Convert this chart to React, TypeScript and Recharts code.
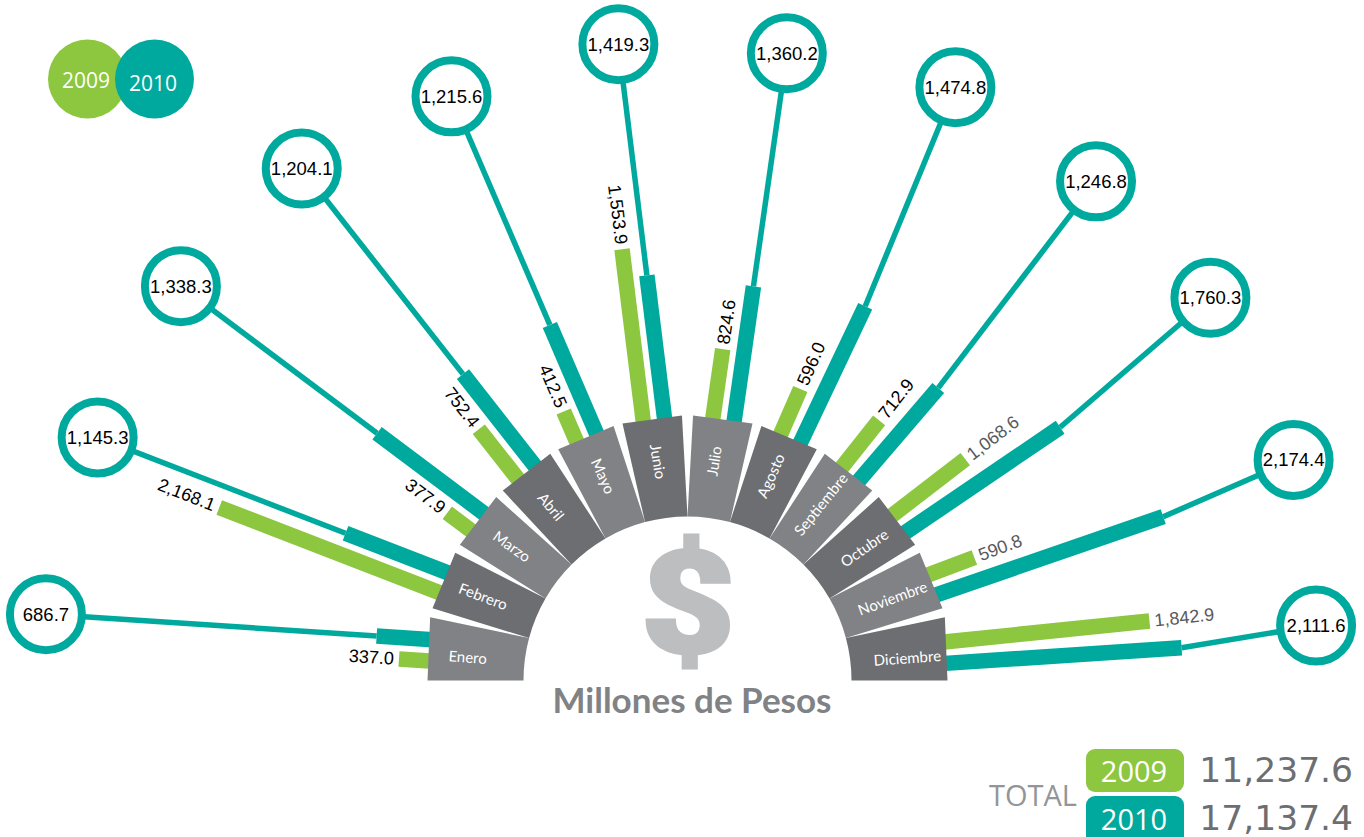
import React from 'react';
import { PieChart, Pie, ScatterChart, Scatter, XAxis, YAxis } from 'recharts';

const MONTHS = ['Enero', 'Febrero', 'Marzo', 'Abril', 'Mayo', 'Junio', 'Julio', 'Agosto', 'Septiembre', 'Octubre', 'Noviembre', 'Diciembre'];
const VALUES_2009 = [337.0, 2168.1, 377.9, 752.4, 412.5, 1553.9, 824.6, 596.0, 712.9, 1068.6, 590.8, 1842.9];
const VALUES_2010 = [686.7, 1145.3, 1338.3, 1204.1, 1215.6, 1419.3, 1360.2, 1474.8, 1246.8, 1760.3, 2174.4, 2111.6];
const TOTALS = [
  { year: '2009', total: '11,237.6' },
  { year: '2010', total: '17,137.4' },
];

// layout of the fan, angles in degrees counted clockwise from the left
const WIDTH = 1364;
const HEIGHT = 837;
const CX = 687.5;
const CY = 680.5;
const BUBBLE_ANGLES = [5.9, 22.4, 37.9, 53, 68, 83.8, 99, 114.3, 129.3, 143.8, 160, 175];
const BUBBLE_REACH = [645, 638, 642, 641, 630, 640, 635, 651, 645, 648, 645, 631];
const NAME_ANGLES = [6.2, 22.5, 37.5, 52, 67.7, 82.5, 96.8, 112, 127, 143, 158, 174];

const GREEN = '#8dc63f';
const TEAL = '#00a99d';
const SECTOR_LIGHT = '#808285';
const SECTOR_DARK = '#6d6e71';
const LABEL_FONT = '"Liberation Sans", Arial, sans-serif';

const polar = (deg: number, r: number) => {
  const a = (deg * Math.PI) / 180;
  return { x: CX - r * Math.cos(a), y: CY - r * Math.sin(a) };
};
const fmt = (v: number) => v.toLocaleString('en-US', { minimumFractionDigits: 1, maximumFractionDigits: 1 });

// the printed bars are not quite proportional, so each series has its own scale
const length09 = (v: number) => (v < 1200 ? 0.09 * v - 3 : 0.1025 * v + 15);
const length10 = (v: number) => 0.127 * v - 35;

const noDot = () => <g />;

type Pt = { x: number; y: number };
const towards = (from: Pt, to: Pt) => {
  const len = Math.hypot(to.x - from.x, to.y - from.y);
  return { x: (to.x - from.x) / len, y: (to.y - from.y) / len };
};
const along = (p: Pt, dir: Pt, d: number) => ({ x: p.x + dir.x * d, y: p.y + dir.y * d });

// one geometry record per month, all of it derived from the values above
const spokes = MONTHS.map((month, i) => {
  const angle10 = 9 + 15.2 * i;
  const base10 = polar(angle10, 262);
  const base09 = polar(4.3 + 15.2 * i, 262);
  const bubble = polar(BUBBLE_ANGLES[i], BUBBLE_REACH[i]);
  const toBubble = towards(base10, bubble);
  // from Agosto on the thick bar follows its own radius and the thin line bends to the bubble
  const dir10 = i >= 7 ? towards({ x: CX, y: CY }, base10) : toBubble;
  const tip10 = along(base10, dir10, length10(VALUES_2010[i]));
  const tip09 = along(base09, toBubble, length09(VALUES_2009[i]));
  const labelAt = along(tip09, toBubble, 5);
  const rightSide = i > 5;
  const rot = (Math.atan2(rightSide ? toBubble.y : -toBubble.y, rightSide ? toBubble.x : -toBubble.x) * 180) / Math.PI;
  return {
    month,
    stalk: [tip10, bubble],
    bar10: [along(base10, dir10, -15), tip10],
    bar09: [along(base09, toBubble, -15), tip09],
    bubble: { ...bubble, label: fmt(VALUES_2010[i]) },
    label09: { ...labelAt, label: fmt(VALUES_2009[i]), rot, anchor: rightSide ? 'start' : 'end', color: i >= 9 ? '#58595b' : '#000' },
  };
});

const Bubble = (props: any) => (
  <g>
    <circle cx={props.cx} cy={props.cy} r={36} fill="#fff" stroke={TEAL} strokeWidth={8} />
    <text x={props.cx} y={props.cy} textAnchor="middle" dominantBaseline="central" fontFamily={LABEL_FONT} fontSize={18.5} fill="#000">
      {props.payload.label}
    </text>
  </g>
);

const BarLabel = (props: any) => {
  const p = props.payload;
  return (
    <text
      x={props.cx}
      y={props.cy}
      textAnchor={p.anchor}
      dominantBaseline="central"
      transform={`rotate(${p.rot} ${props.cx} ${props.cy})`}
      fontFamily={LABEL_FONT}
      fontSize={18}
      fill={p.color}
    >
      {p.label}
    </text>
  );
};

// straight outer edge with a gap that opens outwards, text along the spoke
const Wedge = (props: any) => {
  const i = Math.round((180 - props.startAngle) / 15);
  const from = 15 * i;
  const to = from + 15;
  const left = i < 6;
  const o1 = i === 0 ? polar(0, 260) : polar(from + (left ? 0.8 : 1.2), 265);
  const o2 = i === 11 ? polar(180, 260) : polar(from + (left ? 13.8 : 14.2), 265);
  const in1 = polar(from, props.innerRadius);
  const in2 = polar(to, props.innerRadius);
  const mid = polar(NAME_ANGLES[i], 221);
  const rot = left ? NAME_ANGLES[i] - 2 : NAME_ANGLES[i] - 180 + 2;
  return (
    <g>
      <path
        d={`M${o1.x} ${o1.y}L${o2.x} ${o2.y}L${in2.x} ${in2.y}A${props.innerRadius} ${props.innerRadius} 0 0 0 ${in1.x} ${in1.y}Z`}
        fill={i % 2 === 0 ? SECTOR_LIGHT : SECTOR_DARK}
      />
      <text
        x={mid.x}
        y={mid.y}
        textAnchor="middle"
        dominantBaseline="central"
        transform={`rotate(${rot} ${mid.x} ${mid.y})`}
        fontFamily="Lato, sans-serif"
        fontSize={15}
        fill="#fff"
      >
        {MONTHS[i]}
      </text>
    </g>
  );
};

const sectors = MONTHS.map((name) => ({ name, share: 1 }));

export default function App() {
  return (
    <div style={{ position: 'absolute', left: 0, top: 0, width: WIDTH, height: HEIGHT, overflow: 'hidden', background: '#fff' }}>
      <div style={{ position: 'absolute', left: 0, top: 0 }}>
        <ScatterChart width={WIDTH} height={HEIGHT} margin={{ top: 0, right: 0, bottom: 0, left: 0 }}>
          <XAxis type="number" dataKey="x" domain={[0, WIDTH]} hide />
          <YAxis type="number" dataKey="y" domain={[0, HEIGHT]} reversed hide />
          {spokes.map((s) => (
            <Scatter key={`stalk-${s.month}`} data={s.stalk} line={{ stroke: TEAL, strokeWidth: 5.5 }} shape={noDot} isAnimationActive={false} />
          ))}
          {spokes.map((s) => (
            <Scatter key={`bar10-${s.month}`} data={s.bar10} line={{ stroke: TEAL, strokeWidth: 15.5 }} shape={noDot} isAnimationActive={false} />
          ))}
          {spokes.map((s) => (
            <Scatter key={`bar09-${s.month}`} data={s.bar09} line={{ stroke: GREEN, strokeWidth: 15.5 }} shape={noDot} isAnimationActive={false} />
          ))}
          <Scatter data={spokes.map((s) => s.bubble)} shape={Bubble} isAnimationActive={false} />
          <Scatter data={spokes.map((s) => s.label09)} shape={BarLabel} isAnimationActive={false} />
        </ScatterChart>
      </div>
      <div style={{ position: 'absolute', left: 0, top: 0 }}>
        <PieChart width={WIDTH} height={HEIGHT} margin={{ top: 0, right: 0, bottom: 0, left: 0 }}>
          <Pie
            data={sectors}
            dataKey="share"
            nameKey="name"
            cx={CX}
            cy={CY}
            startAngle={180}
            endAngle={0}
            innerRadius={164}
            outerRadius={265}
            stroke="none"
            shape={Wedge}
            isAnimationActive={false}
          />
          <text
            x={688}
            y={653}
            textAnchor="middle"
            transform="translate(688 0) scale(1.15 1) translate(-688 0)"
            fontFamily="Roboto, sans-serif"
            fontWeight={900}
            fontSize={142}
            stroke="#bcbec0"
            strokeWidth={3}
            fill="#bcbec0"
          >
            $
          </text>
          <text x={692} y={713} textAnchor="middle" fontFamily="Lato, sans-serif" fontWeight={700} fontSize={35} fill={SECTOR_LIGHT}>
            Millones de Pesos
          </text>

          <circle cx={87.5} cy={79} r={39.5} fill={GREEN} />
          <circle cx={154.5} cy={79} r={39.5} fill={TEAL} />
          <text x={86} y={80} textAnchor="middle" dominantBaseline="central" fontFamily="'Open Sans', sans-serif" fontSize={21} fill="#fff">
            2009
          </text>
          <text x={153} y={83} textAnchor="middle" dominantBaseline="central" fontFamily="'Open Sans', sans-serif" fontSize={21} fill="#fff">
            2010
          </text>

          <text x={1033} y={806} textAnchor="middle" fontFamily="'Open Sans', sans-serif" fontSize={29} fill="#939598">
            TOTAL
          </text>
          {TOTALS.map((t, i) => (
            <g key={t.year}>
              <rect x={1086} y={749 + i * 47} width={98} height={i === 0 ? 43 : 50} rx={9} fill={i === 0 ? GREEN : TEAL} />
              <text x={1134} y={782 + i * 48} textAnchor="middle" fontFamily="'Open Sans', sans-serif" fontSize={29} fill="#fff">
                {t.year}
              </text>
              <text x={1353} y={782 + i * 48} textAnchor="end" fontFamily="'DejaVu Sans', sans-serif" fontSize={34.5} fill={SECTOR_DARK}>
                {t.total}
              </text>
            </g>
          ))}
        </PieChart>
      </div>
    </div>
  );
}
